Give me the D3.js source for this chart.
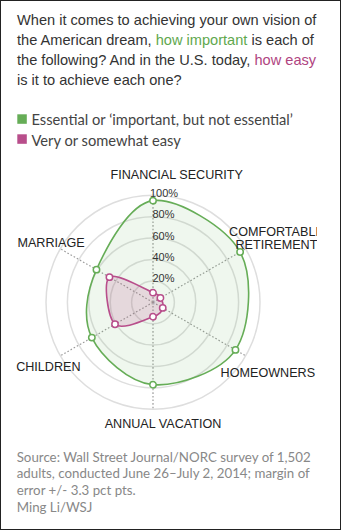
<!DOCTYPE html>
<html>
<head>
<meta charset="utf-8">
<script src="https://cdn.jsdelivr.net/npm/d3@7"></script>
<style>
  html, body { margin: 0; padding: 0; background: #fff; }
  svg { display: block; }
</style>
</head>
<body>
<script>
// ---- data ----
const categories = ["FINANCIAL SECURITY", "COMFORTABLE RETIREMENT", "HOMEOWNERS", "ANNUAL VACATION", "CHILDREN", "MARRIAGE"];
const importantValues = [95, 94, 89, 77, 66, 61];
const easyValues = [9, 8, 10.5, 13.5, 41, 47];
const tickLabels = ["20%", "40%", "60%", "80%", "100%"];
const tickValues = [20, 40, 60, 80, 100];
const seriesNames = ["Essential or \u2018important, but not essential\u2019", "Very or somewhat easy"];

// ---- layout ----
const W = 341, H = 531;
const cx = 153, cy = 302.3, R = 107;
const green = "#66ad57", pink = "#b84e8b";

const svg = d3.select("body").append("svg").attr("width", W).attr("height", H);

// frame
svg.append("rect").attr("x", 0.5).attr("y", 0.5).attr("width", W - 1).attr("height", H - 2)
  .attr("fill", "none").attr("stroke", "#222").attr("stroke-width", 1);

// title
const title = svg.append("text").attr("font-family", "'Liberation Sans', Arial, sans-serif")
  .attr("font-size", 14.6).attr("fill", "#333");
const titleLines = [
  [["When it comes to achieving your own vision of", "#333"]],
  [["the American dream, ", "#333"], ["how important", "#5fa84e"], [" is each of", "#333"]],
  [["the following? And in the U.S. today, ", "#333"], ["how easy", "#b0447f"]],
  [["is it to achieve each one?", "#333"]]
];
titleLines.forEach((line, i) => {
  line.forEach((seg, j) => {
    const t = title.append("tspan").text(seg[0]).attr("fill", seg[1]);
    if (j === 0) t.attr("x", 17).attr("y", 25.3 + i * 20);
  });
});

// legend
const legendColors = [green, pink];
const legend = svg.append("g");
seriesNames.forEach((name, i) => {
  legend.append("rect").attr("x", 17.3).attr("y", 114.3 + i * 20).attr("width", 9.5).attr("height", 9.5)
    .attr("fill", legendColors[i]);
  legend.append("text").attr("x", 31.5).attr("y", 124.5 + i * 21.5)
    .attr("font-family", "Lato, 'Open Sans', sans-serif").attr("font-size", 14.7).attr("fill", "#444")
    .text(name);
});

// radar
const rScale = d3.scaleLinear().domain([0, 100]).range([0, R]);
const n = categories.length;
const angle = i => i * 2 * Math.PI / n;
const g = svg.append("g").attr("transform", `translate(${cx},${cy})`);

// rings
g.selectAll(".ring").data(tickValues).enter().append("circle")
  .attr("r", d => rScale(d)).attr("fill", "none").attr("stroke", "#dedede").attr("stroke-width", 1.5);

// axes
g.selectAll(".axis").data(categories).enter().append("line")
  .attr("x1", 0).attr("y1", 0)
  .attr("x2", (d, i) => rScale(100) * Math.sin(angle(i)))
  .attr("y2", (d, i) => -rScale(100) * Math.cos(angle(i)))
  .attr("stroke", "#9a9a9a").attr("stroke-width", 1.2).attr("stroke-dasharray", "1.6,2");

// areas
const line = d3.lineRadial().curve(d3.curveCardinalClosed)
  .radius(d => rScale(d)).angle((d, i) => angle(i));

const series = [
  { values: importantValues, color: green, fillOpacity: 0.1 },
  { values: easyValues, color: pink, fillOpacity: 0.18 }
];
series.forEach(s => {
  g.append("path").attr("d", line(s.values)).attr("fill", s.color).attr("fill-opacity", s.fillOpacity)
    .attr("stroke", s.color).attr("stroke-width", 1.6);
});

// center "0"
g.append("text").attr("x", 0).attr("y", 3).attr("text-anchor", "middle")
  .attr("font-family", "'Liberation Sans', Arial, sans-serif").attr("font-size", 8).attr("fill", "#bbb").text("0");

// tick labels
g.selectAll(".tick").data(tickValues).enter().append("text")
  .attr("x", (d, i) => i === tickValues.length - 1 ? -3 : -0.5)
  .attr("y", d => -rScale(d) + 1.5)
  .attr("font-family", "'Liberation Sans', Arial, sans-serif").attr("font-size", 11).attr("fill", "#333")
  .text((d, i) => tickLabels[i]);

series.forEach(s => {
  g.selectAll(null).data(s.values).enter().append("circle")
    .attr("cx", (d, i) => rScale(d) * Math.sin(angle(i)))
    .attr("cy", (d, i) => -rScale(d) * Math.cos(angle(i)))
    .attr("r", 3.2).attr("fill", "#fff").attr("stroke", s.color).attr("stroke-width", 1.5);
});

// axis labels
const labelR = 128;
const labelShift = [[23.7, 0], [12.6, -0.8], [4, 6.7], [10, -6.7], [6.2, 0.7], [8.9, 3.7]];
svg.append("clipPath").attr("id", "clip2").append("rect").attr("x", -cx).attr("y", -cy).attr("width", 317).attr("height", H);
const labels = g.append("g").attr("clip-path", "url(#clip2)");
categories.forEach((c, i) => {
  const x = labelR * Math.sin(angle(i)) + labelShift[i][0];
  const y = -labelR * Math.cos(angle(i)) + labelShift[i][1];
  const words = c === "COMFORTABLE RETIREMENT" ? ["COMFORTABLE", "RETIREMENT"] : [c];
  words.forEach((w, k) => {
    labels.append("text").attr("text-anchor", "middle")
      .attr("font-family", "'Liberation Sans', Arial, sans-serif").attr("font-size", 12.6).attr("fill", "#222")
      .attr("x", x).attr("y", y + 4.5 + (k - (words.length - 1) / 2) * 13).text(w);
  });
});

// source
const src = ["Source: Wall Street Journal/NORC survey of 1,502",
  "adults, conducted June 26\u2013July 2, 2014; margin of",
  "error +/- 3.3 pct pts.",
  "Ming Li/WSJ"];
svg.append("g").selectAll("text").data(src).enter().append("text")
  .attr("x", 16.7).attr("y", (d, i) => 461.5 + i * 16.7)
  .attr("font-family", "Lato, 'Open Sans', sans-serif").attr("font-size", 13.3).attr("fill", "#888")
  .text(d => d);
</script>
</body>
</html>
